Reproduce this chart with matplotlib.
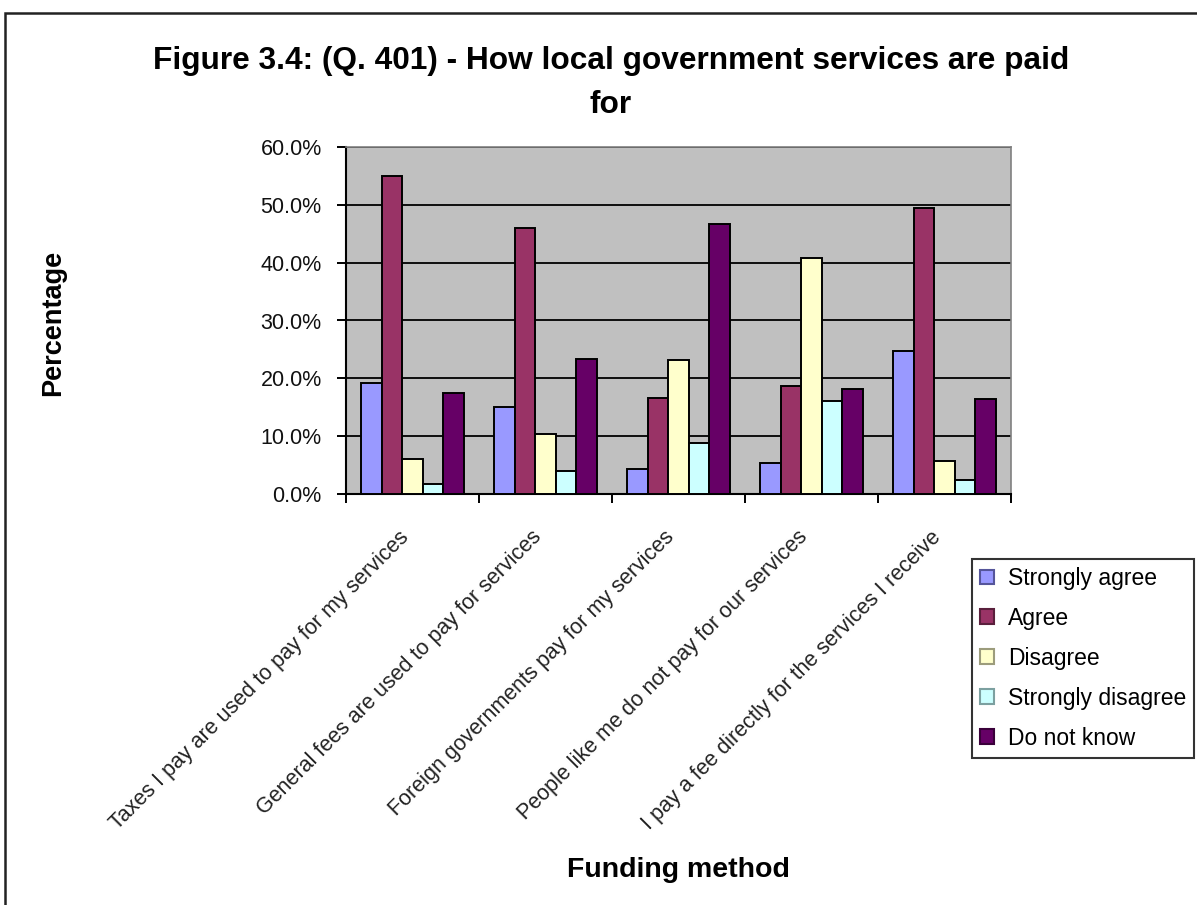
import matplotlib
matplotlib.use("Agg")
import matplotlib.pyplot as plt
import matplotlib.transforms as mtransforms
from matplotlib.patches import Patch, Rectangle
import numpy as np

plt.rcParams['font.family'] = ['Liberation Sans', 'DejaVu Sans']

categories = [
    "Taxes I pay are used to pay for my services",
    "General fees are used to pay for services",
    "Foreign governments pay for my services",
    "People like me do not pay for our services",
    "I pay a fee directly for the services I receive",
]
series_names = ["Strongly agree", "Agree", "Disagree", "Strongly disagree", "Do not know"]
strongly_agree = [19.2, 15.1, 4.3, 5.4, 24.8]
agree = [55.0, 46.0, 16.6, 18.6, 49.4]
disagree = [6.0, 10.3, 23.1, 40.8, 5.7]
strongly_disagree = [1.7, 4.0, 8.9, 16.1, 2.5]
do_not_know = [17.5, 23.4, 46.7, 18.2, 16.5]
y_ticks = [0, 10, 20, 30, 40, 50, 60]

series_values = [strongly_agree, agree, disagree, strongly_disagree, do_not_know]
fill_colors = ["#9999FF", "#993366", "#FFFFCC", "#CCFFFF", "#660066"]
legend_edges = ["#55559a", "#5a1f3c", "#9c9c7c", "#7ca0a0", "#3a003a"]

W, H = 1197, 905
fig = plt.figure(figsize=(W / 100, H / 100), dpi=100)
fig.patch.set_facecolor("white")

# outer chart border (left and top edges visible)
fig.patches.append(Rectangle((5 / W, -0.2), 1.5, 1.2 - 13 / H,
                             transform=fig.transFigure, fill=False,
                             edgecolor="#222222", linewidth=1.8))

left, right, top, bottom = 346, 1011, 147, 494
ax = fig.add_axes([left / W, 1 - bottom / H, (right - left) / W, (bottom - top) / H])
ax.set_facecolor("#C0C0C0")

n_cat = len(categories)
n_ser = len(series_values)
bar_w = 1 / (n_ser + 1.5)
centers = np.arange(n_cat) + 0.5
for j, (vals, col) in enumerate(zip(series_values, fill_colors)):
    ax.bar(centers + (j - (n_ser - 1) / 2) * bar_w, vals, width=bar_w,
           color=col, edgecolor="black", linewidth=1.4, zorder=3)

ax.set_xlim(0, n_cat)
ax.set_ylim(0, 60)
ax.set_yticks(y_ticks)
ax.set_yticklabels([f"{v:.1f}%" for v in y_ticks], fontsize=15.5, color="#111111")
ax.yaxis.grid(True, color="black", linewidth=1.3, zorder=1)
ax.set_axisbelow(True)
ax.set_xticks(np.arange(n_cat + 1))
ax.set_xticklabels([])
ax.tick_params(axis="both", direction="out", length=6.5, width=1.4, color="black")
ax.tick_params(axis="y", pad=11)

for side in ["left", "bottom"]:
    ax.spines[side].set_color("black")
    ax.spines[side].set_linewidth(1.5)
for side in ["top", "right"]:
    ax.spines[side].set_color("#808080")
    ax.spines[side].set_linewidth(1.2)

# rotated category labels
blend = mtransforms.blended_transform_factory(ax.transData, ax.transAxes)
offset = mtransforms.ScaledTranslation(-7 / 100, -40 / 100, fig.dpi_scale_trans)
for c, lab in zip(centers, categories):
    ax.text(c, 0, lab, transform=blend + offset, rotation=45, ha="right",
            va="center", rotation_mode="anchor", fontsize=15.5, color="#222222")

fig.text(611 / W, 1 - 46 / H,
         "Figure 3.4: (Q. 401) - How local government services are paid\nfor",
         ha="center", va="top", fontsize=22.8, fontweight="bold",
         linespacing=1.6)
fig.text(53 / W, 1 - 323 / H, "Percentage", rotation=90, ha="center",
         va="center", fontsize=19.5, fontweight="bold")
fig.text(678 / W, 1 - 870 / H, "Funding method", ha="center", va="center",
         fontsize=20.5, fontweight="bold")

handles = [Patch(facecolor=fc, edgecolor=ec, linewidth=1.5)
           for fc, ec in zip(fill_colors, legend_edges)]
leg = fig.legend(handles, series_names, loc="upper left",
                 bbox_to_anchor=(972 / W, 1 - 559 / H), frameon=True,
                 fancybox=False, fontsize=16.5, handlelength=0.62,
                 handleheight=0.62, handletextpad=0.6, labelspacing=0.74,
                 borderpad=0.35, borderaxespad=0)
leg.get_frame().set_edgecolor("black")
leg.get_frame().set_linewidth(1.5)

fig.savefig("out.png", dpi=100)
